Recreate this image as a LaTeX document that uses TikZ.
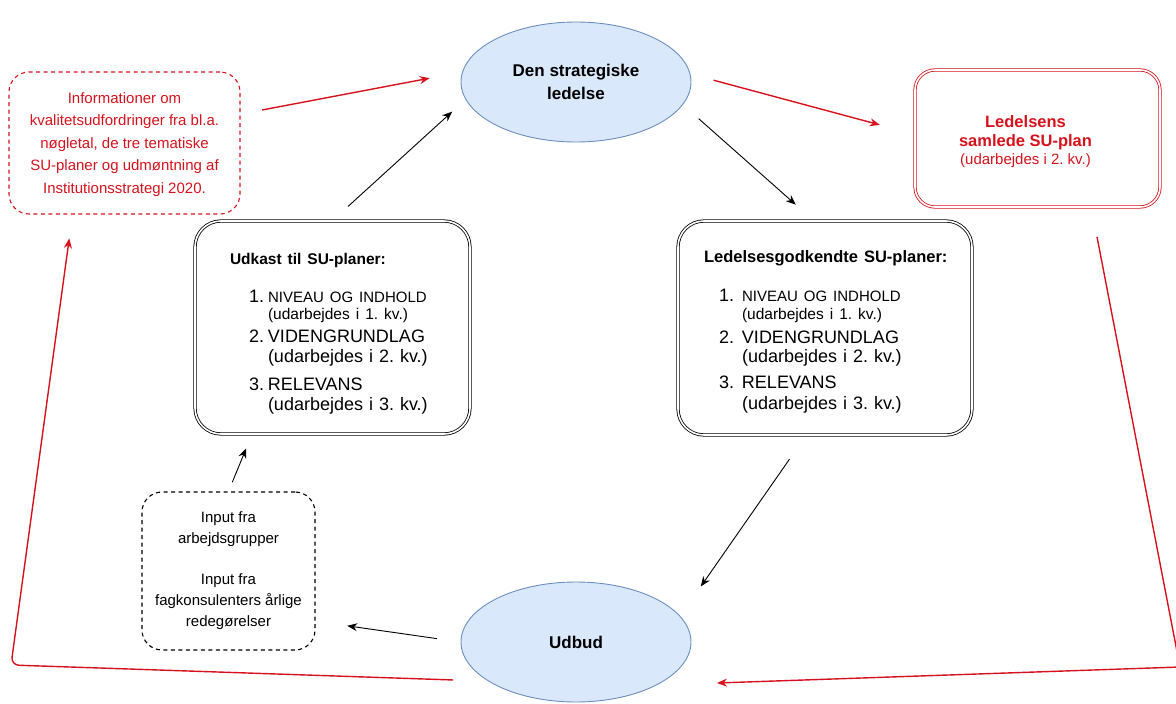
\documentclass[tikz,border=0pt]{standalone}
\usepackage{fontspec}
\setmainfont{Liberation Sans}
\usetikzlibrary{arrows.meta, positioning, calc, shapes.geometric}
\frenchspacing

\definecolor{rod}{RGB}{214,18,28}
\definecolor{lysblaa}{HTML}{DAE8FC}
\definecolor{blaakant}{HTML}{6C8EBF}

\newcommand{\fsz}[2]{\fontsize{#1}{#2}\selectfont}
\newcommand{\punkt}[2]{\hspace*{#1}\makebox[\dimexpr38pt-#1\relax][l]{#2}}

\begin{document}
\begin{tikzpicture}[x=1pt, y=-1pt,
  font=\fsz{15}{21}, >={Stealth[length=10pt, width=8pt]},
  oval/.style={ellipse, draw=blaakant, fill=lysblaa, line width=0.9pt,
               minimum width=230pt, minimum height=120pt, inner sep=0pt,
               align=center, font=\fsz{17}{23}\bfseries},
  dobbelt/.style={draw, double, double distance=1.6pt, line width=0.8pt,
                  rounded corners=26pt, minimum width=275pt, minimum height=213pt,
                  align=left, inner sep=0pt, font=\fsz{18}{20}},
  stiplet/.style={draw, dash pattern=on 4pt off 3.5pt, line width=1.1pt,
                  rounded corners=20pt, align=center, inner sep=0pt},
  roed/.style={draw=rod, line width=1.4pt, ->},
  pil/.style={draw, line width=0.9pt, ->},
]
  \useasboundingbox (0,0) rectangle (1176,704);

  \node[oval] (ledelse) at (576,82) {Den strategiske\\ ledelse};
  \node[oval] (udbud) at (576,642) {Udbud};

  \node[stiplet, draw=rod, text=rod, minimum width=231pt, minimum height=142pt,
        font=\fsz{15}{22.5}] (info) at (124.5,143)
    {\rule{0pt}{14pt}Informationer om\\ kvalitetsudfordringer fra bl.a.\\ nøgletal, de tre tematiske\\
     SU-planer og udmøntning af\\ Institutionsstrategi 2020.};

  \node[dobbelt, draw=rod, text=rod, align=none, rounded corners=20pt,
        minimum width=245pt, minimum height=137pt, font=\fsz{15}{18}] (samlet) at (1037.5,138.5)
    {\begin{tabular}{@{}c@{}}
       \bfseries\fsz{16.5}{20}\rule{0pt}{20pt}Ledelsens\\[1pt]
       \bfseries\fsz{16.5}{20}samlede SU-plan\\
       (udarbejdes i 2. kv.)
     \end{tabular}\hspace*{24pt}};

  \node[dobbelt, text width=205pt] (udkast) at (332.5,327.5) {%
    {\bfseries\fsz{15.5}{20}\rule{0pt}{23pt}Udkast til SU-planer:}\\[18pt]
    \punkt{19pt}{1.}{\fsz{15}{20}NIVEAU OG INDHOLD}\\[-3pt]
    \hspace*{38pt}{\fsz{15.5}{20}(udarbejdes i 1. kv.)}\\[3pt]
    \punkt{19pt}{2.}VIDENGRUNDLAG\\
    \hspace*{38pt}(udarbejdes i 2. kv.)\\[8pt]
    \punkt{19pt}{3.}RELEVANS\\
    \hspace*{38pt}(udarbejdes i 3. kv.)};

  \node[dobbelt, minimum width=294pt, minimum height=214pt, text width=242pt] (godk) at (825,328) {%
    \mbox{\bfseries\fsz{16.5}{20}\rule{0pt}{19pt}Ledelsesgodkendte SU-planer:}\\[19pt]
    \punkt{15pt}{1.}{\fsz{15}{20}NIVEAU OG INDHOLD}\\[-2pt]
    \hspace*{38pt}{\fsz{15.5}{20}(udarbejdes i 1. kv.)}\\[4pt]
    \punkt{15pt}{2.}VIDENGRUNDLAG\\[-1pt]
    \hspace*{38pt}(udarbejdes i 2. kv.)\\[6pt]
    \punkt{15pt}{3.}RELEVANS\\[1pt]
    \hspace*{38pt}(udarbejdes i 3. kv.)};

  \node[stiplet, minimum width=173pt, minimum height=158pt] (input) at (228.5,571)
    {Input fra\\ arbejdsgrupper\\[20pt] Input fra\\ fagkonsulenters årlige\\ redegørelser};

  \coordinate (hjorne1) at (1180,667);
  \coordinate (hjorne2) at (11,665);

  \draw[roed, shorten <=22pt, shorten >=33pt] (info.14) -- (ledelse.175);
  \draw[roed, shorten <=24pt, shorten >=36pt] (ledelse.4) -- (samlet.178);
  \draw[pil, shorten <=21pt, shorten >=18pt] (udkast.north) -- (ledelse.189);
  \draw[pil, shorten <=21pt, shorten >=24pt] (ledelse.-12) -- (godk.96);
  \draw[pil, shorten <=29pt, shorten >=36pt] (godk.260) -- (udbud.14);
  \draw[pil, shorten <=24pt, shorten >=32pt] (udbud.west) -- (input.-30);
  \draw[pil, shorten <=10pt, shorten >=15pt] (input.north) -- (udkast.233);
  \draw[roed, shorten <=30pt, shorten >=60pt] (samlet.-52) -- (hjorne1) -- (udbud.-28);
  \draw[roed, rounded corners=8pt, shorten <=35pt, shorten >=24pt]
    (udbud.204) -- (hjorne2) -- (info.234);
\end{tikzpicture}
\end{document}
